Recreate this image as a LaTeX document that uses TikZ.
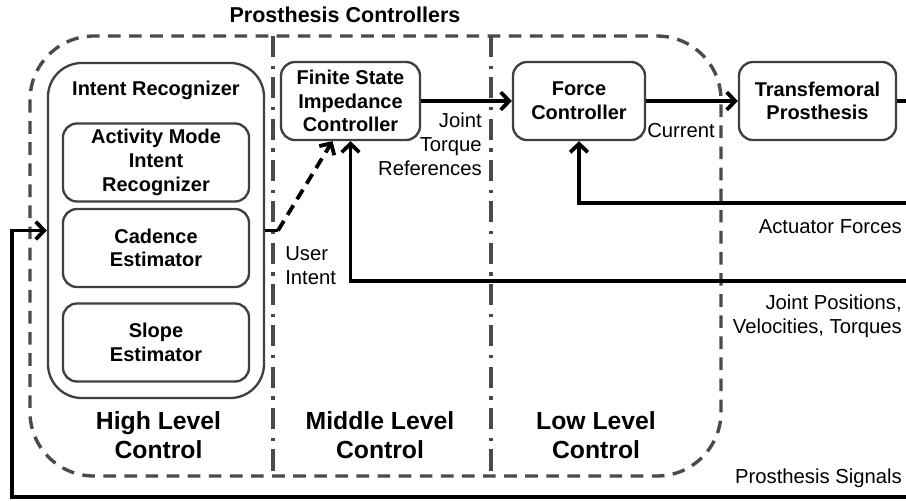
\documentclass[tikz,border=0pt]{standalone}
\usepackage{fontspec}
\setmainfont{Liberation Sans}
\usepackage{xcolor}
\usepackage{tikz}
\usetikzlibrary{shapes.geometric, arrows.meta}

\definecolor{edgegray}{HTML}{3F3F3F}
\definecolor{zonegray}{HTML}{4A4A4A}

\newcommand{\boxfont}{\fontsize{14.2}{16.8}\selectfont\bfseries}
\newcommand{\labelfont}{\fontsize{14.4}{17}\selectfont}
\newcommand{\tierfont}{\fontsize{17.6}{21}\selectfont\bfseries}

\tikzstyle{block} = [rectangle, rounded corners=0.35cm,
minimum height=1.95cm,
text centered,
align=center,
inner sep=0pt,
draw=edgegray,
line width=1.65pt,
font=\boxfont]
\tikzstyle{recogbox} = [rectangle, rounded corners=0.85cm,
draw=edgegray,
line width=1.65pt]
\tikzstyle{arrow} = [line width=2.7pt,-{Straight Barb[length=6pt,width=12.5pt]}]
\tikzstyle{link} = [line width=2.7pt]
\tikzstyle{zone} = [draw=zonegray,
line width=2.4pt,
dash pattern=on 9pt off 6pt,
rounded corners=1.6cm]
\tikzstyle{divider} = [draw=zonegray,
line width=2.4pt,
dash pattern=on 15pt off 6pt on 2.4pt off 6pt]
\tikzstyle{tier} = [align=center, font=\tierfont]
\tikzstyle{siglabel} = [inner sep=0pt, font=\labelfont]
\tikzstyle{titletext} = [font=\fontsize{15.3}{18}\selectfont\bfseries]

\begin{document}
\begin{tikzpicture}[x=0.025cm, y=-0.025cm]
\useasboundingbox (0,0) rectangle (906,500);

% the three control levels
\draw [zone] (30,36) rectangle (721,476);
\draw [divider] (273,36) -- (273,476);
\draw [divider] (491,36) -- (491,476);
\node (title) [titletext] at (345,15) {Prosthesis Controllers};

% high level
\node (intent) [recogbox, minimum width=5.4cm, minimum height=8.375cm] at (156,230.5) {};
\node (intenthead) [font=\boxfont] at (156,90) {Intent Recognizer};
\node (activity) [block, minimum width=4.65cm] at (156,162.5) {Activity Mode\\Intent\\Recognizer};
\node (cadence) [block, minimum width=4.65cm] at (156,248) {Cadence\\Estimator};
\node (slope) [block, minimum width=4.65cm] at (156,342.5) {Slope\\Estimator};

% middle and low level, plant
\node (fsi) [block, minimum width=3.475cm] at (350.5,101) {Finite State\\Impedance\\Controller};
\node (force) [block, minimum width=3.3cm] at (579,101) {Force\\Controller};
\node (prosthesis) [block, minimum width=3.925cm] at (817.5,101) {Transfemoral\\Prosthesis};

\node (highlvl) [tier] at (158.5,435) {High Level\\Control};
\node (midlvl) [tier] at (380,435) {Middle Level\\Control};
\node (lowlvl) [tier] at (596,435) {Low Level\\Control};

% loose ends on the right border
\coordinate (out) at (906,101);
\coordinate (forcefb) at (906,203);
\coordinate (jointfb) at (906,281);
\coordinate (signalfb) at (906,497);
\coordinate (signalcorner) at (12,497);
\coordinate (intentstub) at (278,230.5);

\draw [arrow] (fsi) -- (force);
\draw [arrow] (force) -- (prosthesis);
\draw [link] (prosthesis) -- (out);
\draw [arrow] (forcefb) -| (force);
\draw [arrow] (jointfb) -| (fsi);
\draw [arrow] (signalfb) -- (signalcorner) |- (intent);
\draw [link] (intent.east) -- (intentstub);
\draw [arrow, dash pattern=on 8pt off 5pt] (intentstub) -- ([xshift=-0.45cm]fsi.south);

% signal names
\node (torqueref) [siglabel, anchor=north east, align=right] at (482,113) {Joint\\Torque\\References};
\node (userintent) [siglabel, anchor=north west, align=left] at (285,246) {User\\Intent};
\node (current) [siglabel, anchor=north west] at (647,123) {Current};
\node (actforces) [siglabel, anchor=base east] at (902,233) {Actuator Forces};
\node (jointstates) [siglabel, anchor=north east, align=right] at (902,295) {Joint Positions,\\Velocities, Torques};
\node (signals) [siglabel, anchor=base east] at (902,483) {Prosthesis Signals};

\end{tikzpicture}
\end{document}
